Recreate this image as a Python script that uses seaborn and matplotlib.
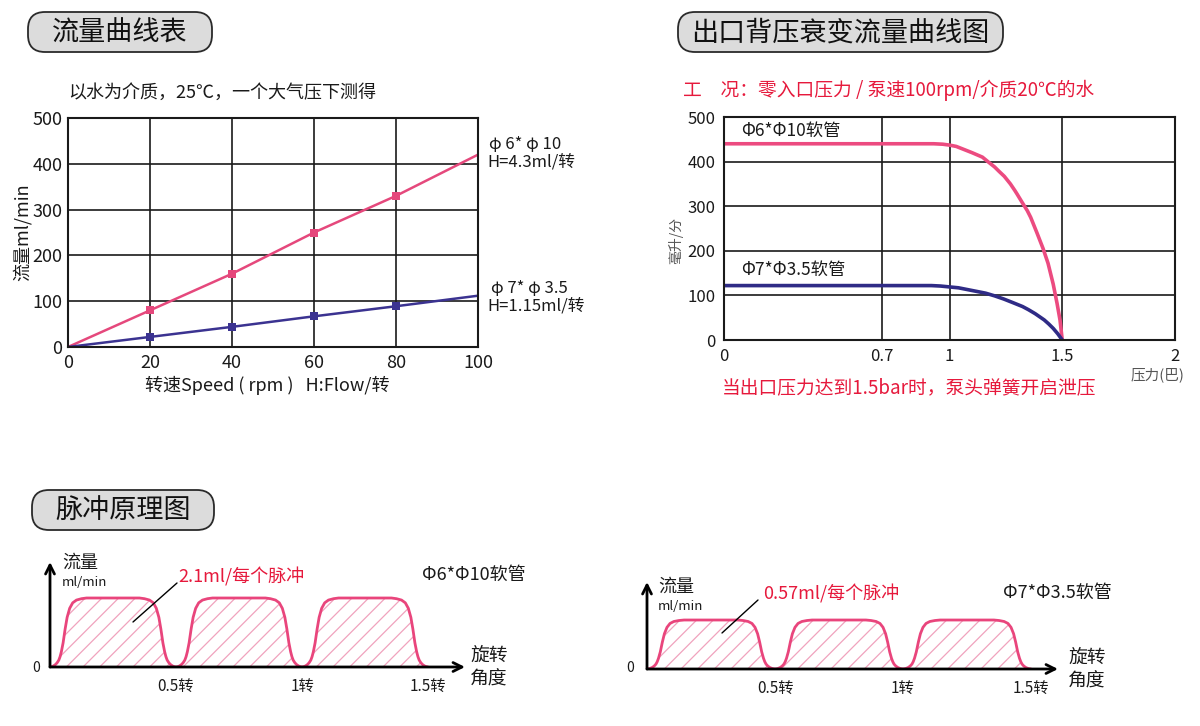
import matplotlib
matplotlib.use("Agg")
import matplotlib.pyplot as plt
from matplotlib.patches import FancyBboxPatch
from matplotlib.lines import Line2D
import seaborn as sns

# ---------------- data ----------------
# chart 1: flow vs speed
speed_rpm = [0, 20, 40, 60, 80, 100]
flow_6x10 = [0, 80, 160, 250, 330, 420]
flow_7x35 = [0, 22, 44, 67, 89, 112]
speed_ticks = [0, 20, 40, 60, 80, 100]
flow_ticks = [0, 100, 200, 300, 400, 500]

# chart 2: back pressure decay
pressure_6x10 = [0, 0.93, 0.97, 1.00, 1.03, 1.06, 1.10, 1.146, 1.17, 1.20, 1.22, 1.243,
                 1.27, 1.29, 1.30, 1.324, 1.345, 1.36, 1.388, 1.415, 1.437, 1.46, 1.477, 1.49, 1.50]
bpflow_6x10 = [440, 440, 439, 437, 434, 428, 420, 410, 400, 388, 378, 367,
               350, 335, 327, 307, 290, 275, 240, 205, 172, 125, 82, 45, 0]
pressure_7x35 = [0, 0.92, 0.96, 1.00, 1.04, 1.08, 1.12, 1.16, 1.20, 1.24, 1.28, 1.324,
                 1.35, 1.38, 1.42, 1.44, 1.46, 1.48, 1.50]
bpflow_7x35 = [122, 122, 121, 119, 117, 113, 109, 105, 99, 92, 84, 75,
               68, 59, 45, 36, 26, 14, 0]
pressure_ticks = [0, 0.7, 1, 1.5, 2]
pressure_ticklabels = ["0", "0.7", "1", "1.5", "2"]

# pulse diagrams: half-pulse profile (turn offset from dip, relative level)
pulse_offset = [0, 0.01, 0.02, 0.028, 0.035, 0.04, 0.045, 0.052, 0.06, 0.068, 0.078,
                0.09, 0.105, 0.125, 0.145, 0.25]
pulse_level = [0, 0.008, 0.03, 0.06, 0.10, 0.15, 0.22, 0.35, 0.55, 0.72, 0.85,
               0.93, 0.97, 0.99, 1.0, 1.0]
pulse_amp_6x10 = 1.0
pulse_amp_7x35 = 0.71
turn_ticks = [0.5, 1, 1.5]
turn_ticklabels = ["0.5转", "1转", "1.5转"]

# ---------------- style ----------------
sns.set_theme(style="white")
plt.rcParams["font.family"] = ["Noto Sans CJK SC", "DejaVu Sans"]
plt.rcParams["axes.unicode_minus"] = False
plt.rcParams["hatch.linewidth"] = 0.9

PINK1, BLUE1 = "#e5487c", "#3b3391"
PINK2, BLUE2 = "#ec4b80", "#2f2b86"
RED = "#e6193c"
PULSE = "#e9457c"
HATCH = "#f0a3bd"
INK = "#1a1a1a"

W, H = 1200, 726
fig = plt.figure(figsize=(W / 100, H / 100), dpi=100)
fig.patch.set_facecolor("white")


def add_ax(l, t, r, b):
    return fig.add_axes([l / W, 1 - b / H, (r - l) / W, (b - t) / H])


def ftext(x, y, s, **kw):
    kw.setdefault("va", "center")
    kw.setdefault("ha", "left")
    kw.setdefault("color", INK)
    return fig.text(x / W, 1 - y / H, s, **kw)


def title_box(x0, y0, x1, y1, text, size):
    box = FancyBboxPatch((x0 / 100, (H - y1) / 100), (x1 - x0) / 100, (y1 - y0) / 100,
                         boxstyle="round,pad=0,rounding_size=0.17",
                         transform=fig.dpi_scale_trans, facecolor="#dcdcdc",
                         edgecolor="#2a2a2a", linewidth=1.3)
    fig.patches.append(box)
    ftext((x0 + x1) / 2, (y0 + y1) / 2 + 1, text, ha="center", fontsize=size,
          color="#111111", fontweight="medium")


# ---------------- chart 1 ----------------
title_box(28, 12, 212, 52, "流量曲线表", 19.5)
ftext(68, 93, "以水为介质，25℃，一个大气压下测得", fontsize=13)

ax1 = add_ax(68, 118, 478, 347)
sns.lineplot(x=speed_rpm, y=flow_6x10, ax=ax1, color=PINK1, linewidth=1.8,
             marker="s", markersize=5.5, markevery=[1, 2, 3, 4], markeredgewidth=0)
sns.lineplot(x=speed_rpm, y=flow_7x35, ax=ax1, color=BLUE1, linewidth=1.8,
             marker="s", markersize=5.5, markevery=[1, 2, 3, 4], markeredgewidth=0)
ax1.set_xlim(0, 100)
ax1.set_ylim(0, 500)
ax1.set_xticks(speed_ticks)
ax1.set_yticks(flow_ticks)
ax1.grid(True, color=INK, linewidth=1.2)
ax1.set_axisbelow(True)
for sp in ax1.spines.values():
    sp.set_color(INK)
    sp.set_linewidth(1.5)
ax1.tick_params(length=0, labelsize=13, colors=INK)
ax1.tick_params(axis="x", pad=5)
ax1.tick_params(axis="y", pad=4)
ax1.set_xlabel("")
ax1.set_ylabel("")
ftext(22, 232, "流量ml/min", ha="center", rotation=90, fontsize=13)
ftext(267, 385, "转速Speed ( rpm )   H:Flow/转", ha="center", fontsize=13)
ftext(489, 145, "φ 6* φ 10", fontsize=12)
ftext(487, 162, "H=4.3ml/转", fontsize=12)
ftext(491, 289, "φ 7* φ 3.5", fontsize=12)
ftext(487, 306, "H=1.15ml/转", fontsize=12)

# ---------------- chart 2 ----------------
title_box(678, 12, 1003, 52, "出口背压衰变流量曲线图", 19.5)
ftext(683, 90, "工\u3000况：零入口压力 / 泵速100rpm/介质20℃的水", fontsize=13.5, color=RED)

ax2 = add_ax(724, 117, 1175, 340)
sns.lineplot(x=pressure_6x10, y=bpflow_6x10, ax=ax2, color=PINK2, linewidth=2.6)
sns.lineplot(x=pressure_7x35, y=bpflow_7x35, ax=ax2, color=BLUE2, linewidth=2.6)
ax2.set_xlim(0, 2)
ax2.set_ylim(0, 500)
ax2.set_xticks(pressure_ticks, labels=pressure_ticklabels)
ax2.set_yticks(flow_ticks)
ax2.grid(True, color=INK, linewidth=1.2)
ax2.set_axisbelow(True)
for sp in ax2.spines.values():
    sp.set_color(INK)
    sp.set_linewidth(1.5)
ax2.tick_params(length=0, labelsize=12, colors=INK)
ax2.tick_params(axis="x", pad=6)
ax2.tick_params(axis="y", pad=6)
ax2.set_xlabel("")
ax2.set_ylabel("")
ax2.text(0.075, 469, "Φ6*Φ10软管", fontsize=12.5, va="center", ha="left", color=INK)
ax2.text(0.075, 157, "Φ7*Φ3.5软管", fontsize=12.5, va="center", ha="left", color=INK)
ftext(676, 240, "毫升/分", ha="center", rotation=90, fontsize=10, color="#555555")
ftext(1157, 375, "压力(巴)", ha="center", fontsize=10.5, color="#555555")
ftext(722, 388, "当出口压力达到1.5bar时，泵头弹簧开启泄压", fontsize=13.5, color=RED)

# ---------------- pulse diagrams ----------------
title_box(32, 490, 214, 530, "脉冲原理图", 19.5)

# one pulse = rise profile + mirrored fall profile
one_x = list(pulse_offset) + [0.5 - o for o in reversed(pulse_offset[:-1])]
one_y = list(pulse_level) + list(reversed(pulse_level[:-1]))


def pulse_panel(box, xmax, ymax, amp, note, tube, note_xy, leader, tube_xy, flow_xy, turn_xy, zero_xy):
    ax = add_ax(*box)
    xs, ys = [], []
    for k in range(3):
        xs += [x + 0.5 * k for x in one_x]
        ys += [y * amp for y in one_y]
    ax.fill_between(xs, 0, ys, facecolor="white", edgecolor=HATCH, hatch="//", linewidth=0)
    sns.lineplot(x=xs, y=ys, ax=ax, color=PULSE, linewidth=2.0, sort=False, estimator=None)
    ax.set_xlim(0, xmax)
    ax.set_ylim(0, ymax)
    for sp in ax.spines.values():
        sp.set_visible(False)
    ax.set_facecolor("none")
    ax.set_xticks(turn_ticks, labels=turn_ticklabels)
    ax.set_yticks([])
    ax.tick_params(length=0, labelsize=11, pad=8, colors=INK)
    ax.set_xlabel("")
    ax.set_ylabel("")
    arrow = dict(arrowstyle="->", lw=2, color="black", mutation_scale=16, shrinkA=0, shrinkB=0)
    ax.annotate("", xy=(0, 1), xytext=(0, 0), xycoords="axes fraction", arrowprops=arrow, annotation_clip=False)
    ax.annotate("", xy=(1, 0), xytext=(0, 0), xycoords="axes fraction", arrowprops=arrow, annotation_clip=False)
    ftext(*note_xy, note, fontsize=13, color=RED)
    (x0, y0), (x1, y1) = leader
    fig.add_artist(Line2D([x0 / W, x1 / W], [1 - y0 / H, 1 - y1 / H], color="black", linewidth=1))
    ftext(*tube_xy, tube, fontsize=13)
    ftext(flow_xy[0], flow_xy[1], "流量", fontsize=13)
    ftext(flow_xy[0], flow_xy[1] + 19, "ml/min", fontsize=9.5)
    ftext(turn_xy[0], turn_xy[1], "旋转", fontsize=13.5)
    ftext(turn_xy[0], turn_xy[1] + 24, "角度", fontsize=13.5)
    ftext(*zero_xy, "0", fontsize=10, ha="center")
    return ax


pulse_panel((50, 562, 465, 667), 415 / 252, 105 / 69, pulse_amp_6x10,
            "2.1ml/每个脉冲", "Φ6*Φ10软管", (178, 577), ((177, 583), (133, 622)),
            (422, 575), (62, 563), (470, 655), (36, 668))
pulse_panel((647, 582, 1058, 669), 411 / 256, 87 / 69, pulse_amp_7x35,
            "0.57ml/每个脉冲", "Φ7*Φ3.5软管", (763, 594), ((758, 600), (722, 633)),
            (1003, 593), (658, 587), (1068, 657), (630, 668))

fig.savefig("out.png", dpi=100, facecolor="white")
